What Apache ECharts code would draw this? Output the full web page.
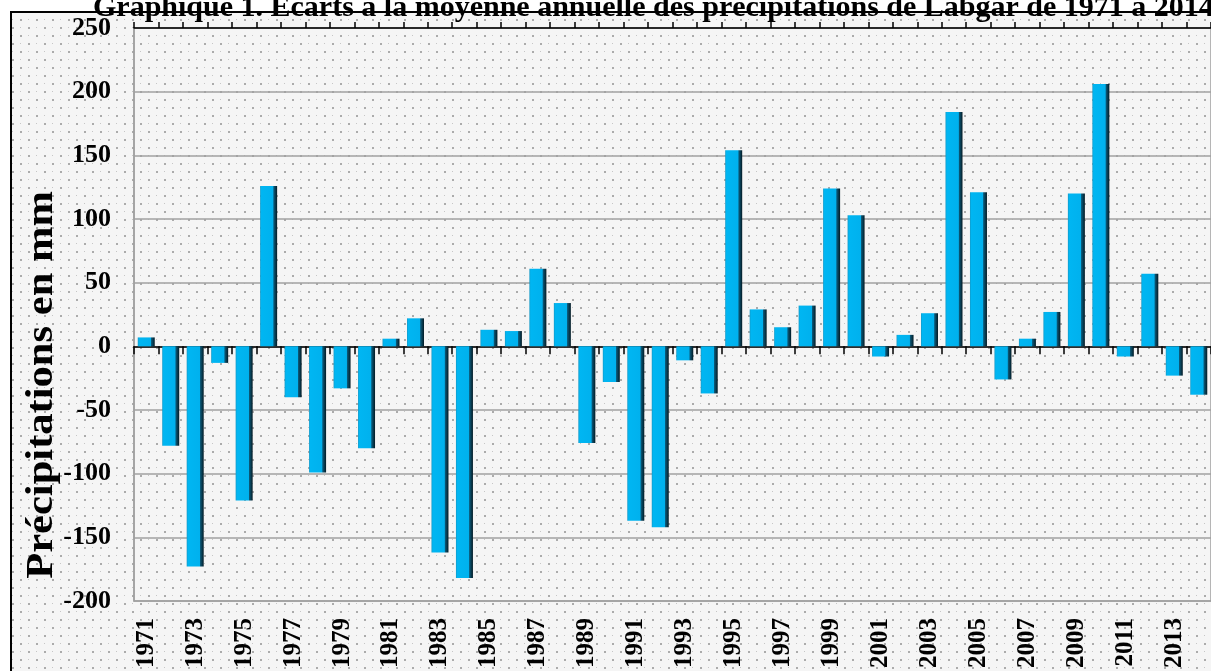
<!DOCTYPE html>
<html>
<head>
<meta charset="utf-8">
<title>Ecarts à la moyenne annuelle des précipitations de Labgar</title>
<script src="https://cdn.jsdelivr.net/npm/echarts/dist/echarts.min.js"></script>
<style>
    html, body { margin: 0; padding: 0; background: #fff; }
    #main { width: 1211px; height: 671px; }
</style>
</head>
<body>
<div id="main"></div>
<script>
    // années (catégories)
    var years = ['1971', '1972', '1973', '1974', '1975', '1976', '1977', '1978', '1979', '1980',
        '1981', '1982', '1983', '1984', '1985', '1986', '1987', '1988', '1989', '1990',
        '1991', '1992', '1993', '1994', '1995', '1996', '1997', '1998', '1999', '2000',
        '2001', '2002', '2003', '2004', '2005', '2006', '2007', '2008', '2009', '2010',
        '2011', '2012', '2013', '2014'];

    // écarts à la moyenne (mm)
    var ecarts = [7, -78, -173, -13, -121, 126, -40, -99, -33, -80,
        6, 22, -162, -182, 13, 12, 61, 34, -76, -28,
        -137, -142, -11, -37, 154, 29, 15, 32, 124, 103,
        -8, 9, 26, 184, 121, -26, 6, 27, 120, 206,
        -8, 57, -23, -38];

    var yMin = -200;
    var yMax = 250;
    var yStep = 50;

    var titre = 'Graphique 1. Ecarts à la moyenne annuelle des précipitations de Labgar de 1971 à 2014';
    var nomAxeY = 'Précipitations en mm';

    // motif pointillé du fond
    function dotPattern() {
        var c = document.createElement('canvas');
        c.width = 16;
        c.height = 16;
        var ctx = c.getContext('2d');
        ctx.fillStyle = '#f5f5f5';
        ctx.fillRect(0, 0, 16, 16);
        ctx.fillStyle = '#ababab';
        ctx.fillRect(4, 3, 2, 2);
        ctx.fillRect(12, 11, 2, 2);
        ctx.fillStyle = '#c6c6c6';
        ctx.fillRect(12, 3, 1, 1);
        ctx.fillRect(4, 11, 1, 1);
        return c;
    }

    var barColor = new echarts.graphic.LinearGradient(0, 0, 1, 0, [
        {offset: 0, color: '#1598c6'},
        {offset: 0.08, color: '#00b6f2'},
        {offset: 0.76, color: '#00b1ee'},
        {offset: 0.8, color: '#0b5a7a'},
        {offset: 1, color: '#031a24'}
    ]);

    var myChart = echarts.init(document.getElementById('main'));
    myChart.setOption({
        animation: false,
        title: {
            text: titre,
            left: 88,
            top: -12,
            textStyle: {
                fontFamily: 'Liberation Serif',
                fontWeight: 'bold',
                fontSize: 30,
                color: '#000'
            }
        },
        graphic: [
            {
                type: 'rect',
                z: -1,
                silent: true,
                shape: {x: 11, y: 12, width: 1300, height: 800},
                style: {
                    fill: {image: dotPattern(), repeat: 'repeat'},
                    stroke: '#000',
                    lineWidth: 2
                }
            },
            {
                type: 'text',
                x: 42,
                y: 385,
                rotation: Math.PI / 2,
                scaleX: 1.12,
                silent: true,
                style: {
                    text: nomAxeY,
                    fontFamily: 'Liberation Serif',
                    fontWeight: 'bold',
                    fontSize: 38,
                    fill: '#000',
                    textAlign: 'center',
                    textVerticalAlign: 'middle'
                }
            }
        ],
        grid: {
            show: true,
            left: 134,
            top: 28,
            width: 1082,
            height: 575,
            borderColor: '#a0a0a0',
            borderWidth: 1.5
        },
        xAxis: [
            {
                // étiquettes en bas
                type: 'category',
                data: years,
                position: 'bottom',
                axisLine: {show: false, onZero: false},
                axisTick: {show: false},
                axisLabel: {
                    interval: 1,
                    rotate: 90,
                    margin: 17,
                    fontFamily: 'Liberation Serif',
                    fontWeight: 'bold',
                    fontSize: 25,
                    color: '#000'
                }
            },
            {
                // axe du zéro, graduations vers le bas
                type: 'category',
                data: years,
                position: 'bottom',
                axisLine: {show: true, onZero: true, lineStyle: {color: '#000', width: 1.5}},
                axisTick: {show: true, interval: 0, length: 8, lineStyle: {color: '#000', width: 1.5}},
                axisLabel: {show: false}
            },
            {
                // graduations vers le haut
                type: 'category',
                data: years,
                position: 'top',
                axisLine: {show: true, onZero: true, lineStyle: {color: '#000', width: 1.5}},
                axisTick: {show: true, interval: 0, length: 6, lineStyle: {color: '#000', width: 1.5}},
                axisLabel: {show: false}
            }
        ],
        yAxis: {
            type: 'value',
            min: yMin,
            max: yMax,
            interval: yStep,
            axisLine: {show: true, lineStyle: {color: '#a0a0a0', width: 1.5}},
            axisTick: {show: false},
            axisLabel: {
                margin: 23,
                fontFamily: 'Liberation Serif',
                fontWeight: 'bold',
                fontSize: 26,
                color: '#000'
            },
            splitLine: {lineStyle: {color: '#a0a0a0', width: 1.5}}
        },
        series: [
            {
                name: 'Ecarts',
                type: 'bar',
                xAxisIndex: 0,
                data: ecarts,
                barWidth: 17,
                itemStyle: {color: barColor}
            }
        ]
    });
</script>
</body>
</html>
